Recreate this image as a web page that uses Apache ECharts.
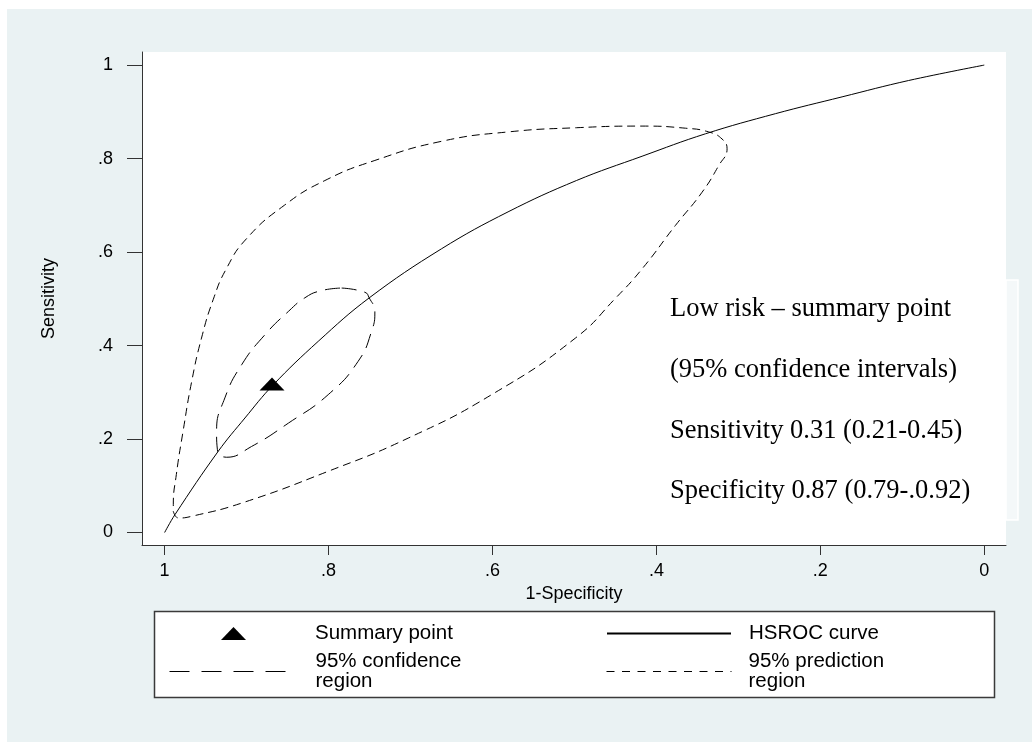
<!DOCTYPE html>
<html><head><meta charset="utf-8">
<script src="https://cdn.jsdelivr.net/npm/echarts@6/dist/echarts.min.js"></script>
<style>
html,body{margin:0;padding:0;background:#fff;}
#bg{position:absolute;left:7px;top:9px;width:1025px;height:733px;background:#EAF2F3;}
#chart{position:absolute;left:0;top:0;width:1032px;height:742px;}
</style></head><body>
<div id="bg"></div><div id="chart"></div>
<script>
// ---- data (x = axis value shown as "1-Specificity", y = Sensitivity) ----
const tickValues = [0, 0.2, 0.4, 0.6, 0.8, 1];
const tickLabels = ['0', '.2', '.4', '.6', '.8', '1'];

const summaryPoint = [[0.869, 0.318]];

const hsrocCurve = [[1,0],[0.9875,0.038],[0.9345,0.174],[0.902,0.245],[0.868,0.315],[0.8126,0.409],
  [0.7504,0.502],[0.6622,0.607],[0.581,0.686],[0.4976,0.753],[0.4175,0.805],[0.3402,0.853],
  [0.2549,0.896],[0.1735,0.932],[0.0923,0.967],[0,1]];

const confidenceRegion = [[0.784,0.523],[0.7557,0.514],[0.7504,0.502],[0.7435,0.473],[0.7476,0.430],
  [0.764,0.366],[0.8004,0.295],[0.849,0.234],[0.894,0.184],[0.9246,0.161],[0.9356,0.177],
  [0.9366,0.2165],[0.9265,0.288],[0.906,0.359],[0.8777,0.423],[0.849,0.473],[0.829,0.502],
  [0.81,0.517],[0.784,0.523]];

const predictionRegion = [[0.9894,0.0453],[0.983,0.031],[0.967,0.0347],[0.906,0.063],[0.8004,0.131],
  [0.7028,0.202],[0.601,0.295],[0.4988,0.416],[0.4495,0.502],
  [0.4175,0.564],[0.3768,0.657],[0.3443,0.728],[0.324,0.785],[0.3138,0.821],[0.320,0.842],
  [0.3362,0.857],[0.3646,0.865],[0.4175,0.8695],[0.4976,0.866],[0.581,0.857],[0.662,0.837],
  [0.7435,0.796],[0.8045,0.753],[0.854,0.700],[0.9004,0.628],
  [0.9248,0.564],[0.9406,0.499],[0.955,0.416],[0.967,0.323],[0.9775,0.2165],[0.9857,0.124],
  [0.9894,0.0595],[0.9894,0.0453]];

const seriesNames = ['Summary point', 'HSROC curve', '95% confidence region', '95% prediction region'];
const infoLines = ['Low risk \u2013 summary point', '(95% confidence intervals)',
  'Sensitivity 0.31 (0.21-0.45)', 'Specificity 0.87 (0.79-.0.92)'];

// ---- chart ----
const chart = echarts.init(document.getElementById('chart'));
const sans = '"Liberation Sans", Arial, Helvetica, sans-serif';
const serif = '"Liberation Serif", "Times New Roman", serif';
const fmtTick = v => {
  let best = 0;
  tickValues.forEach((t, i) => { if (Math.abs(t - v) < Math.abs(tickValues[best] - v)) best = i; });
  return tickLabels[best];
};
const legendFmt = n => n.replace(' region', '\nregion');
const legendText = pad => ({ color: '#000', fontFamily: sans, fontSize: 20.5, lineHeight: 20, padding: [0, 0, 0, pad] });
const hiddenSymbol = { opacity: 0 };

const option = {
  backgroundColor: 'transparent',
  animation: false,
  grid: { left: 142, top: 52, width: 864, height: 493, show: true, backgroundColor: '#fff', borderWidth: 0 },
  xAxis: {
    type: 'value', inverse: true, min: -0.0265, max: 1.0276,
    name: '1-Specificity', nameLocation: 'middle', nameGap: 37,
    nameTextStyle: { color: '#000', fontFamily: sans, fontSize: 18 },
    axisLine: { show: true, onZero: false, lineStyle: { color: '#333', width: 1 } },
    axisTick: { show: true, length: 10, customValues: tickValues, lineStyle: { color: '#333' } },
    axisLabel: { customValues: tickValues, formatter: fmtTick, margin: 17, color: '#000', fontFamily: sans, fontSize: 18 },
    splitLine: { show: false }
  },
  yAxis: {
    type: 'value', min: -0.0267, max: 1.028,
    name: 'Sensitivity', nameLocation: 'middle', nameGap: 84, nameRotate: 90,
    nameTextStyle: { color: '#000', fontFamily: sans, fontSize: 18 },
    axisLine: { show: true, onZero: false, lineStyle: { color: '#333', width: 1 } },
    axisTick: { show: true, length: 15, customValues: tickValues, lineStyle: { color: '#333' } },
    axisLabel: { customValues: tickValues, formatter: fmtTick, margin: 29, color: '#000', fontFamily: sans, fontSize: 18 },
    splitLine: { show: false }
  },
  legend: [
    { data: [{ name: seriesNames[0], icon: 'triangle' }], left: 221, top: 623, padding: 0, itemWidth: 25, itemHeight: 13,
      symbolKeepAspect: false, selectedMode: false, textStyle: legendText(64), formatter: legendFmt,
      itemStyle: { color: '#000', opacity: 1 } },
    { data: [seriesNames[1]], left: 606, top: 623, padding: 0, itemWidth: 124, itemHeight: 14,
      selectedMode: false, textStyle: legendText(13), formatter: legendFmt, itemStyle: hiddenSymbol },
    { data: [seriesNames[2]], left: 169, top: 651, padding: 0, itemWidth: 126, itemHeight: 14,
      selectedMode: false, textStyle: legendText(15), formatter: legendFmt, itemStyle: hiddenSymbol,
      lineStyle: { type: [20, 12], width: 1, color: '#000' } },
    { data: [seriesNames[3]], left: 606, top: 651, padding: 0, itemWidth: 125, itemHeight: 14,
      selectedMode: false, textStyle: legendText(12), formatter: legendFmt, itemStyle: hiddenSymbol,
      lineStyle: { type: [8, 7.5], width: 1, color: '#000' } }
  ],
  graphic: [
    { type: 'rect', z: -1, shape: { x: 154.5, y: 611.5, width: 840, height: 86 },
      style: { fill: '#fff', stroke: '#3a3a3a', lineWidth: 1.5 } },
    { type: 'rect', z: 10, shape: { x: 1006, y: 280, width: 12, height: 240 },
      style: { fill: '#F4F8F9', stroke: '#fff', lineWidth: 1.5 } }
  ].concat(infoLines.map((t, i) => ({
    type: 'text', z: 10, style: { text: t, x: 670, y: [309, 370, 431, 491][i], fill: '#000',
      font: '26.5px ' + serif, verticalAlign: 'middle', align: 'left' }
  }))),
  series: [
    { name: seriesNames[0], type: 'scatter', data: summaryPoint, symbol: 'triangle', symbolSize: [25, 13],
      itemStyle: { color: '#000', opacity: 1 }, z: 5 },
    { name: seriesNames[1], type: 'line', data: hsrocCurve, smooth: 0.4, showSymbol: false, symbol: 'none',
      lineStyle: { color: '#000', width: 1 }, itemStyle: { color: '#000' } },
    { name: seriesNames[2], type: 'line', data: confidenceRegion, smooth: 0.5, showSymbol: false, symbol: 'none',
      lineStyle: { color: '#000', width: 1, type: [15, 8] }, itemStyle: { color: '#000' } },
    { name: seriesNames[3], type: 'line', data: predictionRegion, smooth: 0.5, showSymbol: false, symbol: 'none',
      lineStyle: { color: '#000', width: 1, type: [8, 5] }, itemStyle: { color: '#000' } }
  ]
};
chart.setOption(option);
</script></body></html>
